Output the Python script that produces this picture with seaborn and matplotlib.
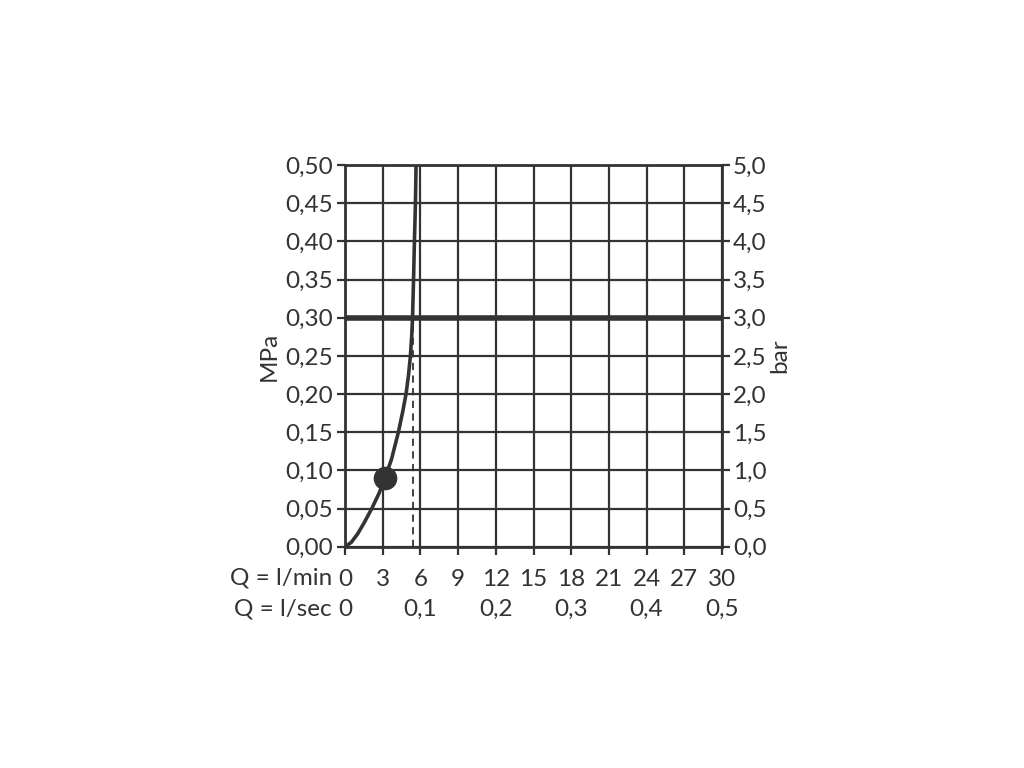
import matplotlib
matplotlib.use("Agg")
import matplotlib.pyplot as plt
import matplotlib.transforms as mtransforms
import seaborn as sns
import pandas as pd

sns.set_theme(style="white")
plt.rcParams['font.family'] = ['Lato', 'DejaVu Sans']
plt.rcParams['font.weight'] = 'normal'

# Data
flow_lpm = [0, 0.5, 1.0, 1.5, 2.12, 2.7, 3.18, 3.7, 4.24, 4.6, 4.85, 5.05, 5.2, 5.3, 5.37, 5.45, 5.52, 5.6, 5.65]
pressure_mpa = [0, 0.006, 0.017, 0.031, 0.05, 0.07, 0.09, 0.115, 0.15, 0.178, 0.20, 0.225, 0.25, 0.275, 0.30, 0.35, 0.40, 0.45, 0.50]
marker_point = ([3.18], [0.09])
limit_pressure = 0.30
dashed_flow = 5.4

x_ticks = [0, 3, 6, 9, 12, 15, 18, 21, 24, 27, 30]
x_labels = ["0", "3", "6", "9", "12", "15", "18", "21", "24", "27", "30"]
sec_pos = [0, 6, 12, 18, 24, 30]
sec_labels = ["0", "0,1", "0,2", "0,3", "0,4", "0,5"]
y_ticks = [0, 0.05, 0.10, 0.15, 0.20, 0.25, 0.30, 0.35, 0.40, 0.45, 0.50]
y_labels = ["0,00", "0,05", "0,10", "0,15", "0,20", "0,25", "0,30", "0,35", "0,40", "0,45", "0,50"]
bar_ticks = [0, 0.5, 1.0, 1.5, 2.0, 2.5, 3.0, 3.5, 4.0, 4.5, 5.0]
bar_labels = ["0,0", "0,5", "1,0", "1,5", "2,0", "2,5", "3,0", "3,5", "4,0", "4,5", "5,0"]

C = "#333333"
FS = 17.5
fig = plt.figure(figsize=(10.24, 7.68), dpi=100)
ax = fig.add_axes([0.337, 0.288, 0.368, 0.497])

ax.set_xlim(0, 30)
ax.set_ylim(0, 0.5)
ax.set_xticks(x_ticks)
ax.set_xticklabels(x_labels)
ax.set_yticks(y_ticks)
ax.set_yticklabels(y_labels)
ax.grid(True, color=C, linewidth=1.6)
ax.set_axisbelow(True)
for s in ax.spines.values():
    s.set_color(C)
    s.set_linewidth(2.0)
ax.tick_params(axis="both", direction="out", length=6, width=1.6, color=C,
               labelcolor=C, labelsize=FS, pad=3)
ax.tick_params(axis="x", pad=10)
ax.tick_params(axis="both", which="both", bottom=True, left=True)

ax.axhline(limit_pressure, color=C, linewidth=4.0, zorder=3)
ax.plot([dashed_flow, dashed_flow], [0, limit_pressure], color=C, linewidth=1.3,
        linestyle=(0, (4, 3)), zorder=2)

df = pd.DataFrame({"flow": flow_lpm, "pressure": pressure_mpa})
sns.lineplot(data=df, x="flow", y="pressure", sort=False, estimator=None,
             color=C, linewidth=2.6, ax=ax, zorder=4)
ax.plot(marker_point[0], marker_point[1], "o", color=C, markersize=16, zorder=5)

ax.set_xlabel("")
ax.set_ylabel("MPa", fontsize=FS, color=C, labelpad=4)

ax2 = ax.twinx()
ax2.set_ylim(0, 5)
ax2.set_yticks(bar_ticks)
ax2.set_yticklabels(bar_labels)
ax2.tick_params(axis="y", direction="out", length=6, width=1.6, color=C,
                labelcolor=C, labelsize=FS, pad=2, right=True)
for s in ax2.spines.values():
    s.set_visible(False)
ax2.set_ylabel("bar", fontsize=FS, color=C, rotation=90, labelpad=2)
ax2.grid(False)

trans = mtransforms.blended_transform_factory(ax.transData, fig.transFigure)
fig.text(0.324, 1 - 578 / 768, "Q = l/min", fontsize=FS, color=C, ha="right", va="center")
fig.text(0.324, 1 - 609 / 768, "Q = l/sec", fontsize=FS, color=C, ha="right", va="center")
for p, lab in zip(sec_pos, sec_labels):
    ax.text(p, 1 - 609 / 768, lab, transform=trans, fontsize=FS, color=C,
            ha="center", va="center")

fig.savefig("out.png", dpi=100, facecolor="white")
